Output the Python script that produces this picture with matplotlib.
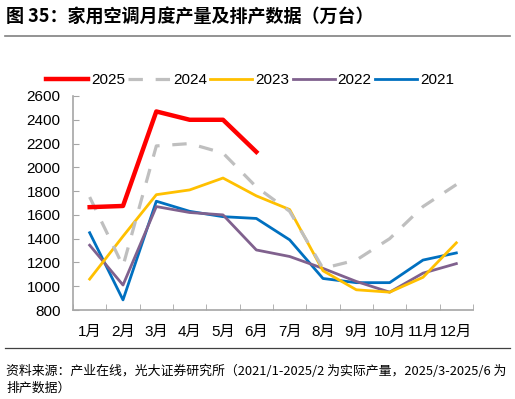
import numpy as np
import matplotlib
matplotlib.use("Agg")
import matplotlib.pyplot as plt

plt.rcParams["font.family"] = ["Liberation Sans", "Noto Sans CJK SC"]

months = ["1月", "2月", "3月", "4月", "5月", "6月", "7月", "8月", "9月", "10月", "11月", "12月"]
y2025 = [1665, 1675, 2470, 2400, 2400, 2130]
y2024 = [1750, 1170, 2180, 2200, 2120, 1835, 1630, 1150, 1220, 1400, 1670, 1855]
y2023 = [1060, 1420, 1770, 1810, 1910, 1760, 1645, 1130, 970, 950, 1075, 1365]
y2022 = [1345, 1010, 1670, 1620, 1600, 1305, 1250, 1150, 1040, 950, 1110, 1190]
y2021 = [1450, 885, 1715, 1630, 1585, 1570, 1390, 1065, 1030, 1030, 1220, 1280]

fig = plt.figure(figsize=(5.15, 3.99), dpi=100)
ax = fig.add_axes([73 / 515, 1 - 310 / 399, 400 / 515, 214 / 399])

x = np.arange(len(months))
l21, = ax.plot(x, y2021, color="#0070C0", lw=2.0, label="2021")
l22, = ax.plot(x, y2022, color="#80618E", lw=2.0, label="2022")
l23, = ax.plot(x, y2023, color="#FFC000", lw=2.0, label="2023")
l24, = ax.plot(x, y2024, color="#BFBFBF", lw=2.3, dashes=(4.5, 4), label="2024")
l25, = ax.plot(x[:len(y2025)], y2025, color="#FF0000", lw=3.2, label="2025")

ax.set_xlim(-0.5, 11.5)
ax.set_ylim(800, 2600)
ax.set_yticks(range(800, 2601, 200))
ax.set_xticks(x)
ax.set_xticklabels(months)
ax.set_xticks(np.arange(-0.5, 12, 1), minor=True)
ax.tick_params(axis="x", which="major", length=0, pad=11, labelsize=11)
ax.tick_params(axis="x", which="minor", direction="in", length=4, color="#A6A6A6")
ax.tick_params(axis="y", direction="in", length=4, color="#A6A6A6", labelsize=11, pad=9)

for s in ["top", "right"]:
    ax.spines[s].set_visible(False)
for s in ["left", "bottom"]:
    ax.spines[s].set_color("#A6A6A6")
    ax.spines[s].set_linewidth(1.2)

fig.legend(
    handles=[l25, l24, l23, l22, l21],
    loc="center",
    bbox_to_anchor=(250 / 515, 1 - 80 / 399),
    ncol=5,
    frameon=False,
    fontsize=11,
    handlelength=2.75,
    handletextpad=0.2,
    columnspacing=0.2,
    borderaxespad=0,
)

# title and rules
fig.text(6 / 515, 1 - 17 / 399, "图 35：家用空调月度产量及排产数据（万台）",
         fontsize=13, fontweight="bold", va="center", ha="left",
         family=["Noto Sans CJK SC", "DejaVu Sans"])
fig.add_artist(plt.Line2D([5 / 515, 510 / 515], [1 - 36 / 399] * 2, color="#808080", lw=1.2))
fig.add_artist(plt.Line2D([5 / 515, 510 / 515], [1 - 348 / 399] * 2, color="#404040", lw=0.9))

fig.text(6 / 515, 1 - 371 / 399,
         "资料来源：产业在线，光大证券研究所（2021/1-2025/2 为实际产量，2025/3-2025/6 为",
         fontsize=9.3, va="center", ha="left", family=["Noto Sans CJK SC", "DejaVu Sans"])
fig.text(6 / 515, 1 - 388 / 399, "排产数据）",
         fontsize=9.3, va="center", ha="left", family=["Noto Sans CJK SC", "DejaVu Sans"])

fig.savefig("out.png", dpi=100)
